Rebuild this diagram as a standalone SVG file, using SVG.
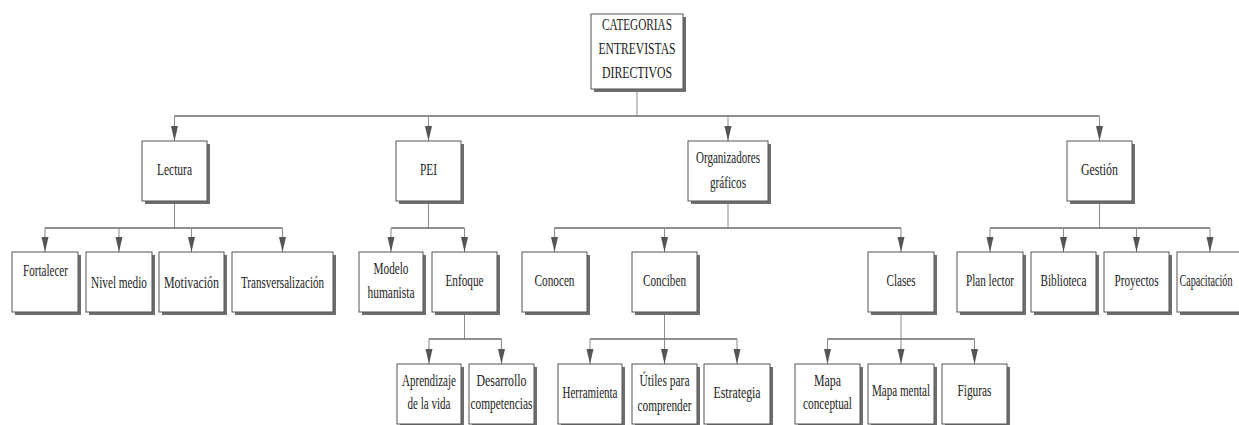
<svg xmlns="http://www.w3.org/2000/svg" width="1239" height="425" viewBox="0 0 1239 425">
<defs>
<style>
.sh{fill:#6e6e6e}
.bx{fill:#fff;stroke:#555;stroke-width:1}
.t{font-family:"Liberation Serif","DejaVu Serif",serif;font-size:16px;fill:#222;text-anchor:middle}
.c{stroke:#6a6a6a;stroke-width:1.5;fill:none}
.v{stroke:#8a8a8a;stroke-width:1;fill:none}
.a{stroke:#8a8a8a;stroke-width:1;fill:none;marker-end:url(#arr)}
</style>
<marker id="arr" markerUnits="userSpaceOnUse" markerWidth="15" markerHeight="8" viewBox="0 0 15 8" refX="15" refY="4" orient="auto">
<path d="M0,0.5 L15,4 L0,7.5 z" fill="#555"/>
</marker>
</defs>
<rect width="1239" height="425" fill="#fff"/>

<g id="connectors">
<line class="v" x1="637" y1="89" x2="637" y2="116"/>
<line class="c" x1="174.5" y1="116" x2="1099.5" y2="116"/>
<line class="a" x1="174.5" y1="116" x2="174.5" y2="141"/>
<line class="a" x1="428.5" y1="116" x2="428.5" y2="141"/>
<line class="a" x1="728" y1="116" x2="728" y2="141"/>
<line class="a" x1="1099.5" y1="116" x2="1099.5" y2="141"/>

<line class="v" x1="174.5" y1="201" x2="174.5" y2="228"/>
<line class="c" x1="45" y1="228" x2="282.5" y2="228"/>
<line class="a" x1="45" y1="228" x2="45" y2="252"/>
<line class="a" x1="119" y1="228" x2="119" y2="252"/>
<line class="a" x1="191.5" y1="228" x2="191.5" y2="252"/>
<line class="a" x1="282.5" y1="228" x2="282.5" y2="252"/>

<line class="v" x1="428.5" y1="201" x2="428.5" y2="228"/>
<line class="c" x1="391" y1="228" x2="464.5" y2="228"/>
<line class="a" x1="391" y1="228" x2="391" y2="252"/>
<line class="a" x1="464.5" y1="228" x2="464.5" y2="252"/>

<line class="v" x1="728" y1="201" x2="728" y2="228"/>
<line class="c" x1="554.5" y1="228" x2="901" y2="228"/>
<line class="a" x1="554.5" y1="228" x2="554.5" y2="252"/>
<line class="a" x1="664.5" y1="228" x2="664.5" y2="252"/>
<line class="a" x1="901" y1="228" x2="901" y2="252"/>

<line class="v" x1="1099.5" y1="201" x2="1099.5" y2="228"/>
<line class="c" x1="990" y1="228" x2="1210" y2="228"/>
<line class="a" x1="990" y1="228" x2="990" y2="252"/>
<line class="a" x1="1063.5" y1="228" x2="1063.5" y2="252"/>
<line class="a" x1="1136.5" y1="228" x2="1136.5" y2="252"/>
<line class="a" x1="1210" y1="228" x2="1210" y2="252"/>

<line class="v" x1="464.5" y1="312" x2="464.5" y2="339"/>
<line class="c" x1="429" y1="339" x2="501.5" y2="339"/>
<line class="a" x1="429" y1="339" x2="429" y2="364"/>
<line class="a" x1="501.5" y1="339" x2="501.5" y2="364"/>

<line class="v" x1="664.5" y1="312" x2="664.5" y2="339"/>
<line class="c" x1="590" y1="339" x2="737" y2="339"/>
<line class="a" x1="590" y1="339" x2="590" y2="364"/>
<line class="a" x1="664.5" y1="339" x2="664.5" y2="364"/>
<line class="a" x1="737" y1="339" x2="737" y2="364"/>

<line class="v" x1="901" y1="312" x2="901" y2="339"/>
<line class="c" x1="827.5" y1="339" x2="974.5" y2="339"/>
<line class="a" x1="827.5" y1="339" x2="827.5" y2="364"/>
<line class="a" x1="901" y1="339" x2="901" y2="364"/>
<line class="a" x1="974.5" y1="339" x2="974.5" y2="364"/>
</g>

<g id="root"><rect class="sh" x="594" y="17" width="92" height="75"/><rect class="bx" x="591" y="14" width="92" height="75"/>
<text class="t" x="637" y="30" textLength="70" lengthAdjust="spacingAndGlyphs">CATEGORIAS</text>
<text class="t" x="637" y="54" textLength="77" lengthAdjust="spacingAndGlyphs">ENTREVISTAS</text>
<text class="t" x="637" y="78" textLength="70" lengthAdjust="spacingAndGlyphs">DIRECTIVOS</text></g>

<g id="lectura"><rect class="sh" x="145" y="144" width="65" height="60"/><rect class="bx" x="142" y="141" width="65" height="60"/>
<text class="t" x="174.5" y="175" textLength="35" lengthAdjust="spacingAndGlyphs">Lectura</text></g>
<g id="pei"><rect class="sh" x="399" y="144" width="65" height="60"/><rect class="bx" x="396" y="141" width="65" height="60"/>
<text class="t" x="428.5" y="175" textLength="17" lengthAdjust="spacingAndGlyphs">PEI</text></g>
<g id="organizadores"><rect class="sh" x="691" y="144" width="80" height="60"/><rect class="bx" x="688" y="141" width="80" height="60"/>
<text class="t" x="728" y="163" textLength="64" lengthAdjust="spacingAndGlyphs">Organizadores</text>
<text class="t" x="728" y="188" textLength="36" lengthAdjust="spacingAndGlyphs">gráficos</text></g>
<g id="gestion"><rect class="sh" x="1070" y="144" width="65" height="60"/><rect class="bx" x="1067" y="141" width="65" height="60"/>
<text class="t" x="1099.5" y="175" textLength="37" lengthAdjust="spacingAndGlyphs">Gestión</text></g>

<g id="fortalecer"><rect class="sh" x="15" y="255" width="66" height="60"/><rect class="bx" x="12" y="252" width="66" height="60"/>
<text class="t" x="45.5" y="276" textLength="45" lengthAdjust="spacingAndGlyphs">Fortalecer</text></g>
<g id="nivel-medio"><rect class="sh" x="89" y="255" width="66" height="60"/><rect class="bx" x="86" y="252" width="66" height="60"/>
<text class="t" x="119" y="288" textLength="56" lengthAdjust="spacingAndGlyphs">Nivel medio</text></g>
<g id="motivacion"><rect class="sh" x="162" y="255" width="65" height="60"/><rect class="bx" x="159" y="252" width="65" height="60"/>
<text class="t" x="191.5" y="288" textLength="55" lengthAdjust="spacingAndGlyphs">Motivación</text></g>
<g id="transversalizacion"><rect class="sh" x="235" y="255" width="101" height="60"/><rect class="bx" x="232" y="252" width="101" height="60"/>
<text class="t" x="282.5" y="288" textLength="83" lengthAdjust="spacingAndGlyphs">Transversalización</text></g>

<g id="modelo-humanista"><rect class="sh" x="362" y="255" width="64" height="60"/><rect class="bx" x="359" y="252" width="64" height="60"/>
<text class="t" x="391" y="274" textLength="35" lengthAdjust="spacingAndGlyphs">Modelo</text>
<text class="t" x="391" y="298" textLength="47" lengthAdjust="spacingAndGlyphs">humanista</text></g>
<g id="enfoque"><rect class="sh" x="435" y="255" width="65" height="60"/><rect class="bx" x="432" y="252" width="65" height="60"/>
<text class="t" x="464.5" y="286" textLength="38" lengthAdjust="spacingAndGlyphs">Enfoque</text></g>

<g id="conocen"><rect class="sh" x="525" y="255" width="65" height="60"/><rect class="bx" x="522" y="252" width="65" height="60"/>
<text class="t" x="554.5" y="286" textLength="40" lengthAdjust="spacingAndGlyphs">Conocen</text></g>
<g id="conciben"><rect class="sh" x="635" y="255" width="65" height="60"/><rect class="bx" x="632" y="252" width="65" height="60"/>
<text class="t" x="664.5" y="286" textLength="43" lengthAdjust="spacingAndGlyphs">Conciben</text></g>
<g id="clases"><rect class="sh" x="871" y="255" width="66" height="60"/><rect class="bx" x="868" y="252" width="66" height="60"/>
<text class="t" x="901" y="286" textLength="29" lengthAdjust="spacingAndGlyphs">Clases</text></g>

<g id="plan-lector"><rect class="sh" x="960" y="255" width="66" height="60"/><rect class="bx" x="957" y="252" width="66" height="60"/>
<text class="t" x="990" y="286" textLength="48" lengthAdjust="spacingAndGlyphs">Plan lector</text></g>
<g id="biblioteca"><rect class="sh" x="1034" y="255" width="65" height="60"/><rect class="bx" x="1031" y="252" width="65" height="60"/>
<text class="t" x="1063.5" y="286" textLength="46" lengthAdjust="spacingAndGlyphs">Biblioteca</text></g>
<g id="proyectos"><rect class="sh" x="1107" y="255" width="65" height="60"/><rect class="bx" x="1104" y="252" width="65" height="60"/>
<text class="t" x="1136.5" y="286" textLength="44" lengthAdjust="spacingAndGlyphs">Proyectos</text></g>
<g id="capacitacion"><rect class="sh" x="1180" y="255" width="66" height="60"/><rect class="bx" x="1177" y="252" width="66" height="60"/>
<text class="t" x="1206" y="286" textLength="53" lengthAdjust="spacingAndGlyphs">Capacitación</text></g>

<g id="aprendizaje"><rect class="sh" x="400" y="367" width="64" height="60"/><rect class="bx" x="397" y="364" width="64" height="60"/>
<text class="t" x="429" y="386" textLength="54" lengthAdjust="spacingAndGlyphs">Aprendizaje</text>
<text class="t" x="429" y="409" textLength="43" lengthAdjust="spacingAndGlyphs">de la vida</text></g>
<g id="desarrollo"><rect class="sh" x="472" y="367" width="65" height="60"/><rect class="bx" x="469" y="364" width="65" height="60"/>
<text class="t" x="501.5" y="386" textLength="50" lengthAdjust="spacingAndGlyphs">Desarrollo</text>
<text class="t" x="501.5" y="409" textLength="62" lengthAdjust="spacingAndGlyphs">competencias</text></g>

<g id="herramienta"><rect class="sh" x="561" y="367" width="64" height="60"/><rect class="bx" x="558" y="364" width="64" height="60"/>
<text class="t" x="590" y="398" textLength="55" lengthAdjust="spacingAndGlyphs">Herramienta</text></g>
<g id="utiles"><rect class="sh" x="635" y="367" width="65" height="60"/><rect class="bx" x="632" y="364" width="65" height="60"/>
<text class="t" x="664.5" y="386" textLength="50" lengthAdjust="spacingAndGlyphs">Útiles para</text>
<text class="t" x="664.5" y="411" textLength="54" lengthAdjust="spacingAndGlyphs">comprender</text></g>
<g id="estrategia"><rect class="sh" x="707" y="367" width="66" height="60"/><rect class="bx" x="704" y="364" width="66" height="60"/>
<text class="t" x="737" y="398" textLength="47" lengthAdjust="spacingAndGlyphs">Estrategia</text></g>

<g id="mapa-conceptual"><rect class="sh" x="798" y="367" width="65" height="60"/><rect class="bx" x="795" y="364" width="65" height="60"/>
<text class="t" x="827.5" y="386" textLength="27" lengthAdjust="spacingAndGlyphs">Mapa</text>
<text class="t" x="827.5" y="409" textLength="49" lengthAdjust="spacingAndGlyphs">conceptual</text></g>
<g id="mapa-mental"><rect class="sh" x="871" y="367" width="66" height="60"/><rect class="bx" x="868" y="364" width="66" height="60"/>
<text class="t" x="901" y="396" textLength="58" lengthAdjust="spacingAndGlyphs">Mapa mental</text></g>
<g id="figuras"><rect class="sh" x="945" y="367" width="65" height="60"/><rect class="bx" x="942" y="364" width="65" height="60"/>
<text class="t" x="974.5" y="396" textLength="34" lengthAdjust="spacingAndGlyphs">Figuras</text></g>
</svg>
